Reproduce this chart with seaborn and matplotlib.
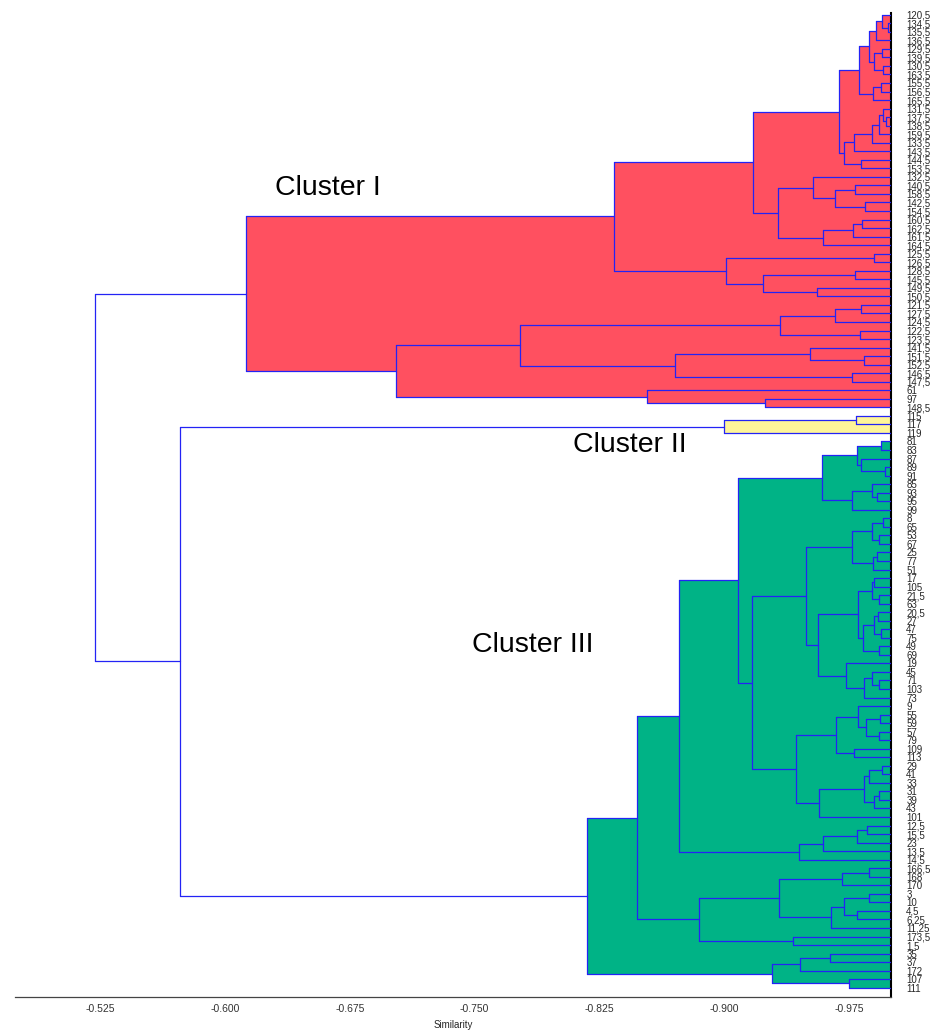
#!/usr/bin/env python3
import matplotlib
matplotlib.use("Agg")
import matplotlib.pyplot as plt
import seaborn as sns

# Dendrogram data: each internal node is
# (similarity, upper child, lower child); leaves are their label strings.
LEAF_LEVEL = -1.0

# --- Cluster I ---
c1_top = (-0.991, (-0.9946, "120,5", (-0.998, "134,5", "135,5")), "136,5")
c1_pair = (-0.9898, (-0.9946, "129,5", "139,5"), (-0.995, "130,5", "163,5"))
c1_155 = (-0.989, (-0.994, "155,5", "156,5"), "165,5")
c1_131 = (-0.9776, (-0.9886, (-0.993, (-0.995, "131,5", (-0.997, "137,5", "138,5")), "159,5"), "133,5"), "143,5")
c1_block1 = (-0.9686, (-0.9806, (-0.987, c1_top, c1_pair), c1_155),
             (-0.972, c1_131, (-0.982, "144,5", "153,5")))
c1_block2 = (-0.932,
             (-0.953, "132,5", (-0.9666, (-0.9784, "140,5", "158,5"), (-0.9846, "142,5", "154,5"))),
             (-0.959, (-0.977, (-0.9824, "160,5", "162,5"), "161,5"), "164,5"))
c1_block3 = (-0.9012, (-0.9896, "125,5", "126,5"),
             (-0.923, (-0.9784, "128,5", "145,5"), (-0.9556, "149,5", "150,5")))
c1_block4 = (-0.9334, (-0.9664, (-0.982, "121,5", "127,5"), "124,5"), (-0.9814, "122,5", "123,5"))
c1_block5 = (-0.8702, (-0.9516, "141,5", (-0.984, "151,5", "152,5")), (-0.9764, "146,5", "147,5"))
c1_block6 = (-0.8536, "61", (-0.9246, "97", "148,5"))
cluster_1 = (-0.6126,
             (-0.8334, (-0.917, c1_block1, c1_block2), c1_block3),
             (-0.7026, (-0.777, c1_block4, c1_block5), c1_block6))

# --- Cluster II ---
cluster_2 = (-0.8996, (-0.979, "115", "117"), "119")

# --- Cluster III ---
c3_a = (-0.9586,
        (-0.9794, (-0.994, "81", "83"), (-0.982, "87", (-0.9964, "89", "91"))),
        (-0.9766, (-0.9884, "85", (-0.9916, "93", "95")), "99"))
c3_b = (-0.9766, (-0.9884, (-0.995, "8", "65"), (-0.9926, "53", "67")),
        (-0.989, (-0.9916, "25", "77"), "51"))
c3_c = (-0.980, (-0.9884, (-0.990, "17", "105"), (-0.993, "21,5", "63")),
        (-0.9834, (-0.990, (-0.992, "20,5", "27"), (-0.994, "47", "75")), (-0.9926, "49", "69")))
c3_d = (-0.973, "19", (-0.984, (-0.9884, "45", (-0.993, "71", "103")), "73"))
c3_e = (-0.967, (-0.980, "9", (-0.985, (-0.9934, "55", "59"), (-0.9926, "57", "79"))),
        (-0.9776, "109", "113"))
c3_f = (-0.957, (-0.984, (-0.987, (-0.9946, "29", "41"), "33"),
                 (-0.9896, (-0.9926, "31", "39"), "43")), "101")
c3_g = (-0.9446, (-0.9594, (-0.9796, (-0.9856, "12,5", "15,5"), "23"), "13,5"), "14,5")
c3_h = (-0.933, (-0.9706, (-0.987, "166,5", "168"), "170"),
        (-0.964, (-0.972, (-0.987, "3", "10"), (-0.9794, "4,5", "6,25")), "11,25"))
c3_i = (-0.9284, (-0.9456, (-0.9634, "35", "37"), "172"), (-0.975, "107", "111"))
cluster_3 = (-0.8172,
             (-0.8472,
              (-0.873,
               (-0.9084, c3_a, (-0.9164, (-0.949, c3_b, (-0.9564, c3_c, c3_d)), (-0.943, c3_e, c3_f))),
               c3_g),
              (-0.885, c3_h, (-0.941, "173,5", "1,5"))),
             c3_i)

clusters = [cluster_1, cluster_2, cluster_3]
cluster_colors = ["#ff5060", "#fff599", "#00b386"]
cluster_names = ["Cluster I", "Cluster II", "Cluster III"]
# where the cluster names sit: (similarity, leaf row)
cluster_name_pos = [(-0.630, 20.3), (-0.8088, 50.4), (-0.7482, 73.85)]
link_23 = -0.573
link_root = -0.522

xticks = [-0.525, -0.600, -0.675, -0.750, -0.825, -0.900, -0.975]

LINE = "#2323f5"

sns.set_style("white")
plt.rcParams["font.family"] = ["Liberation Sans", "DejaVu Sans"]

fig = plt.figure(figsize=(9.31, 10.31), dpi=100)
ax = fig.add_axes([15 / 931, (1031 - 997.3) / 1031, (891 - 15) / 931, (997.3 - 13) / 1031])

leaf_labels = []


def link(ax, h, a, b, fill=None):
    """draw one merge: a and b are (row, similarity) of the children"""
    (ya, xa), (yb, xb) = a, b
    if fill is not None:
        ax.fill_betweenx([ya, yb], h, LEAF_LEVEL, color=fill, lw=0, zorder=1)
    ax.plot([h, h], [ya, yb], color=LINE, lw=0.9, zorder=3)
    ax.plot([h, xa], [ya, ya], color=LINE, lw=0.9, zorder=3)
    ax.plot([h, xb], [yb, yb], color=LINE, lw=0.9, zorder=3)
    return (ya + yb) / 2, h


def place(ax, node, fill=None):
    if isinstance(node, str):
        leaf_labels.append(node)
        return len(leaf_labels) - 1, LEAF_LEVEL
    h, a, b = node
    pa = place(ax, a, fill)
    pb = place(ax, b, fill)
    return link(ax, h, pa, pb, fill)


tops = [place(ax, c, col) for c, col in zip(clusters, cluster_colors)]
p23 = link(ax, link_23, tops[1], tops[2])
link(ax, link_root, tops[0], p23)

for name, (x, y) in zip(cluster_names, cluster_name_pos):
    ax.text(x, y, name, fontsize=20.5, va="center", ha="left", color="black", zorder=5)

ax.set_xlim(-0.474, LEAF_LEVEL)
ax.set_ylim(115.12, -0.2)

ax.set_xticks(xticks)
ax.set_xticklabels([f"{t:.3f}" for t in xticks], fontsize=7.5)
ax.tick_params(axis="x", direction="out", length=3, width=0.8, pad=2, colors="#333333")
ax.set_xlabel("Similarity", fontsize=7, labelpad=4)

ax.yaxis.tick_right()
ax.set_yticks(range(len(leaf_labels)))
ax.set_yticklabels(leaf_labels, fontsize=7)
ax.tick_params(axis="y", length=0, pad=11)

sns.despine(ax=ax, left=True, top=True, right=False, bottom=False)
ax.spines["right"].set_color("black")
ax.spines["right"].set_linewidth(1.5)
ax.spines["bottom"].set_color("#444444")
ax.spines["bottom"].set_linewidth(0.9)

fig.savefig("out.png", dpi=100)
plt.close(fig)
